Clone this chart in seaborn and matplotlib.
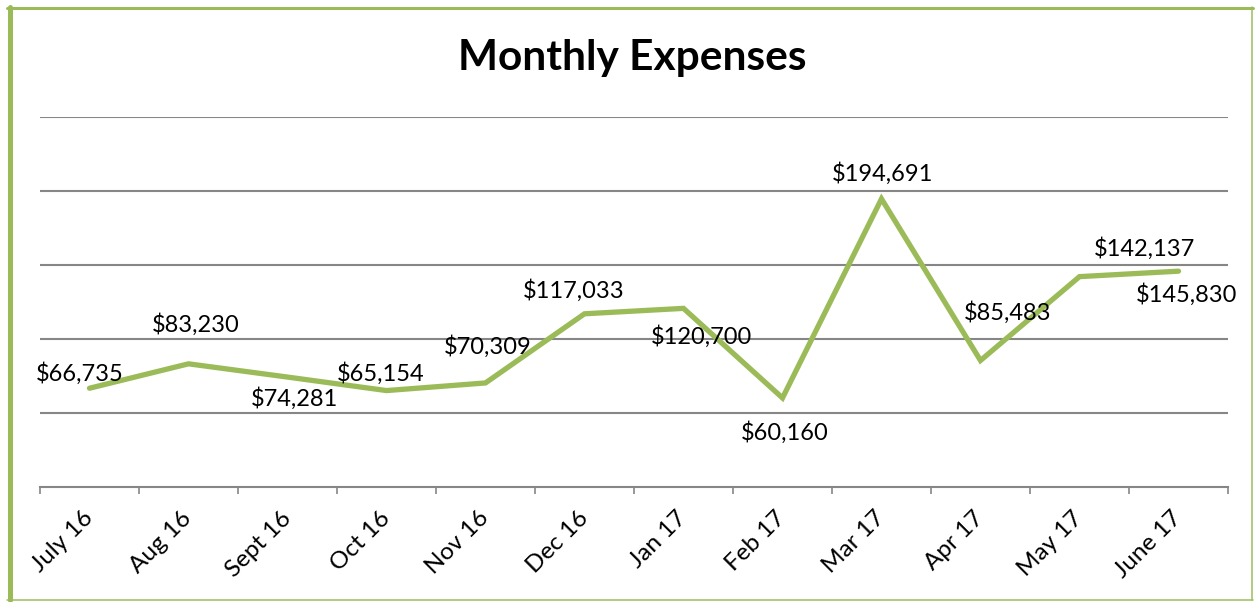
import numpy as np
import pandas as pd
import matplotlib
matplotlib.use('Agg')
import matplotlib.pyplot as plt
import seaborn as sns
from matplotlib.lines import Line2D

# data
months = ['July 16', 'Aug 16', 'Sept 16', 'Oct 16', 'Nov 16', 'Dec 16',
          'Jan 17', 'Feb 17', 'Mar 17', 'Apr 17', 'May 17', 'June 17']
expenses = [66735, 83230, 74281, 65154, 70309, 117033,
            120700, 60160, 194691, 85483, 142137, 145830]
# where each data label sits relative to its point (pixels, up is +)
label_offsets = [(-10, 15), (7, 39), (7, -21), (-6, 17), (2, 36), (-11, 23),
                 (18, -28), (2, -35), (1, 25), (27, 48), (65, 28), (8, -23)]

df = pd.DataFrame({'Month': months, 'Expenses': expenses})

sns.set_style('white')
plt.rcParams['font.family'] = ['Lato', 'DejaVu Sans']
plt.rcParams['text.color'] = 'black'

green = '#9BBB59'
grid_gray = '#868686'

fig = plt.figure(figsize=(12.55, 6.02), dpi=100)
W, H = 1255, 602
ax = fig.add_axes([40 / W, 1 - 487 / H, (1228 - 40) / W, (487 - 117) / H])

sns.lineplot(data=df, x='Month', y='Expenses', sort=False, ax=ax,
             color=green, linewidth=3.8, solid_capstyle='round',
             solid_joinstyle='miter')

ax.set_ylim(0, 250000)
ax.set_xlim(-0.5, len(months) - 0.5)
ax.set_yticks([50000, 100000, 150000, 200000, 250000])
ax.set_yticklabels([])
ax.yaxis.grid(True, color=grid_gray, linewidth=1.5)
ax.set_axisbelow(True)
ax.tick_params(axis='y', length=0)
for side in ['left', 'right', 'top']:
    ax.spines[side].set_visible(False)
ax.spines['bottom'].set_color(grid_gray)
ax.spines['bottom'].set_linewidth(1.5)

ax.set_xticks(range(len(months)))
ax.set_xticklabels(months, rotation=45, ha='right', va='center',
                   rotation_mode='anchor', fontsize=17.5)
ax.set_xticks(np.arange(-0.5, len(months)), minor=True)
ax.tick_params(axis='x', which='major', length=0, pad=20, labelcolor='black')
ax.tick_params(axis='x', which='minor', length=5, width=1.2, color=grid_gray,
               direction='out', bottom=True)
ax.set_xlabel('')
ax.set_ylabel('')

for i, (v, off) in enumerate(zip(expenses, label_offsets)):
    ax.annotate(f'${v:,}', xy=(i, v), xytext=off, textcoords='offset pixels',
                ha='center', va='center', fontsize=17, color='black')

fig.text(632 / W, 1 - 70 / H, 'Monthly Expenses', ha='center', va='baseline',
         fontsize=30.5, fontweight='bold', color='black')

# green frame round the chart
frame = [
    ((9.5, 9.5), (7, 600), 5),
    ((7, 1253), (7.5, 7.5), 3),
    ((1252, 1252), (7, 600), 1.5),
    ((7, 1253), (599.5, 599.5), 1.5),
]
for xs, ys, lw in frame:
    fig.add_artist(Line2D([x / W for x in xs], [1 - y / H for y in ys],
                          transform=fig.transFigure, color=green,
                          linewidth=lw * 0.72))

fig.savefig('out.png', dpi=100)
